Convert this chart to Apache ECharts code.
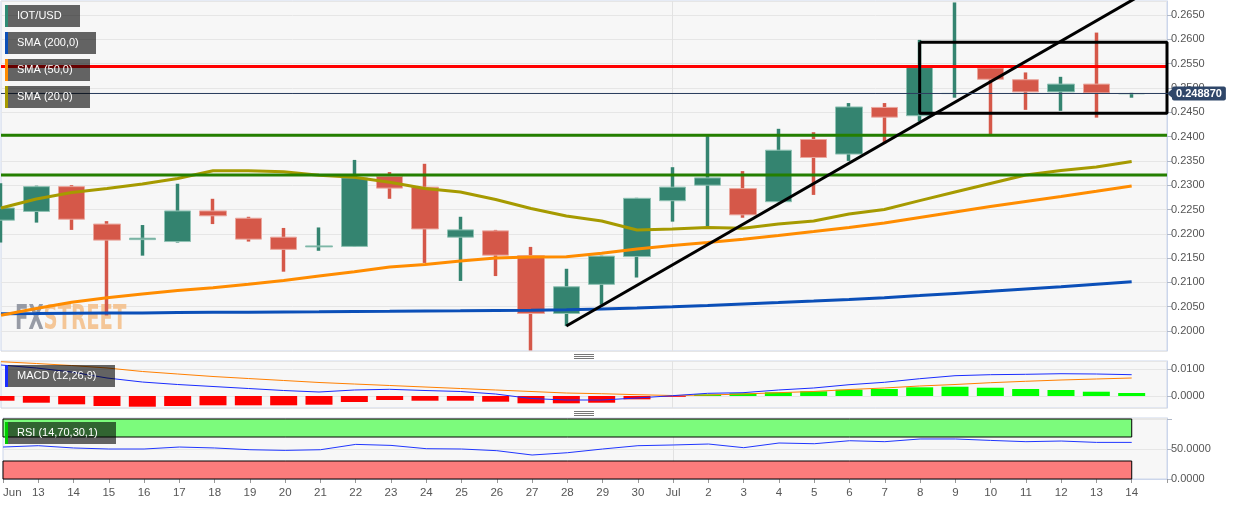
<!DOCTYPE html>
<html><head><meta charset="utf-8">
<script src="https://cdn.jsdelivr.net/npm/echarts@6/dist/echarts.min.js"></script>
<style>html,body{margin:0;padding:0;background:#fff}#c{width:1244px;height:506px}</style>
</head><body><div id="c"></div><script>
const categories = ['Jun','13','14','15','16','17','18','19','20','21','22','23','24','25','26','27','28','29','30',
  'Jul','2','3','4','5','6','7','8','9','10','11','12','13','14',''];
const opens  = [0.2228,0.2246,0.2297,0.2220,0.2188,0.2184,0.2247,0.2232,0.2193,0.2173,0.2174,0.2318,0.2296,0.2193,0.2206,0.2155,0.2036,0.2096,0.2153,0.2268,0.2300,0.2293,0.2266,0.2394,0.2364,0.2460,0.2443,0.24885,0.2541,0.2517,0.2492,0.2508,0.24880];
const closes = [0.2253,0.2297,0.2230,0.2187,0.2191,0.2247,0.2237,0.2189,0.2168,0.2175,0.2315,0.2294,0.2210,0.2208,0.2156,0.2036,0.2091,0.2154,0.2273,0.2296,0.2315,0.2239,0.2372,0.2357,0.2461,0.2440,0.2542,0.24889,0.2518,0.2492,0.2508,0.2490,0.24887];
const lows   = [0.2182,0.2223,0.2208,0.2032,0.2155,0.2182,0.2220,0.2184,0.2122,0.2165,0.2173,0.2272,0.2140,0.2103,0.2113,0.1960,0.2010,0.2054,0.2110,0.2225,0.2215,0.2233,0.2265,0.2280,0.2350,0.2386,0.2431,0.2480,0.2405,0.2455,0.2453,0.2439,0.2480];
const highs  = [0.2304,0.2299,0.2300,0.2226,0.2218,0.2303,0.2272,0.2235,0.2212,0.2213,0.2352,0.2327,0.2344,0.2235,0.2208,0.2173,0.2128,0.2155,0.2274,0.2337,0.2401,0.2329,0.2416,0.2409,0.2469,0.2469,0.2599,0.2676,0.2541,0.2532,0.2523,0.2614,0.2490];
const sma200 = [0.20354,0.20358,0.20364,0.20368,0.20372,0.20379,0.20383,0.20387,0.20391,0.20395,0.20401,0.20405,0.20412,0.20416,0.20422,0.20428,0.20436,0.20453,0.20473,0.20498,0.20525,0.20556,0.20586,0.20617,0.2065,0.20685,0.20728,0.20772,0.20817,0.20864,0.20912,0.20963,0.21014];
const sma50  = [0.20323,0.20463,0.2059,0.20683,0.20761,0.20831,0.20889,0.20961,0.21039,0.21132,0.2122,0.21317,0.21368,0.2144,0.21502,0.21523,0.21529,0.21599,0.21687,0.21759,0.21821,0.21887,0.21965,0.22045,0.2213,0.22222,0.22335,0.22449,0.22562,0.22665,0.22767,0.22874,0.22984];
const sma20  = [0.22531,0.22716,0.2285,0.22932,0.23025,0.23138,0.23298,0.23298,0.23278,0.23204,0.23165,0.2306,0.22932,0.2286,0.22706,0.22521,0.22366,0.22263,0.22078,0.22099,0.2213,0.22113,0.22202,0.22263,0.22407,0.225,0.22683,0.2286,0.23035,0.2321,0.23302,0.23374,0.23488];
const macdLine   = [0.01161,0.01049,0.00899,0.00674,0.00524,0.00431,0.00356,0.00281,0.00206,0.0015,0.00225,0.00251,0.00206,0.00169,0.00075,-0.00094,-0.0015,-0.0015,-0.00075,0.00011,0.00101,0.00124,0.00225,0.003,0.00423,0.00513,0.00648,0.0076,0.00798,0.00813,0.00835,0.00824,0.00798];
const signalLine = [0.01285,0.01217,0.01142,0.01049,0.00918,0.00824,0.0073,0.00655,0.00581,0.00506,0.00449,0.00393,0.00337,0.00281,0.00225,0.00169,0.00112,0.00086,0.00049,0.00019,0.00037,0.00075,0.00124,0.00169,0.00243,0.003,0.00375,0.00431,0.00498,0.00551,0.00599,0.00637,0.00674];
const macdHist   = [-0.00176,-0.00251,-0.00311,-0.00375,-0.004,-0.00375,-0.00348,-0.00348,-0.00348,-0.00326,-0.00225,-0.0015,-0.00176,-0.00176,-0.00213,-0.00273,-0.00273,-0.00251,-0.00124,-0.0003,0.0006,0.001,0.00139,0.00176,0.00236,0.00262,0.00326,0.00348,0.00311,0.00262,0.00225,0.00161,0.00112];
const rsiValues  = [53.3,55.5,51.7,50,50,53.3,51.7,48.8,47.7,48.8,57.7,56,50.5,50,47.2,40,43.8,50,55.5,56.7,58.3,52.2,60,58.8,63.8,62.2,66.7,66.7,64.3,62.2,63.3,61,61];
const lastPrice = 0.248870;
const redLevel = 0.2544;
const greenLevels = [0.2403, 0.2321];
const trendLine = [[16, 0.20103], [33, 0.2722]];
const boxX = [26, 33];
const boxY = [0.24479, 0.2594];
const rsiBands = [[70, 100], [0, 30]];

const FONT = "'Liberation Sans', Arial, sans-serif";
const UP = '#348470', DOWN = '#d55849';
const UP_EDGE = '#8fc2b4', DOWN_EDGE = '#eaa69d';
const chart = echarts.init(document.getElementById('c'), null, {renderer: 'canvas'});

function xAx(gi) {
  return {
    type: 'category', gridIndex: gi, data: categories, boundaryGap: false,
    axisLine: {show: gi === 2, lineStyle: {color: '#ccd6eb'}},
    axisTick: {show: gi === 2, interval: 0, length: 4, lineStyle: {color: '#999'}},
    axisLabel: {show: gi === 2, interval: 0, color: '#555', fontSize: 11.5, fontFamily: FONT, margin: 8, alignMinLabel: 'left'},
    splitLine: {show: true, interval: (i) => i === 19, lineStyle: {color: '#e2e2e2'}}
  };
}
const yCommon = {
  type: 'value', position: 'right',
  axisLine: {show: true, lineStyle: {color: '#ccd6eb'}},
  axisTick: {show: true, length: 5, lineStyle: {color: '#b0b8c8'}},
  splitLine: {show: true, lineStyle: {color: '#e6e6e6'}}
};
const lbl = {color: '#555', fontSize: 11, fontFamily: FONT, margin: 4, showMinLabel: false, showMaxLabel: false};

const wickData = opens.map((o, i) => [o, closes[i], lows[i], highs[i]]);
const bodyData = opens.map((o, i) => [o, closes[i], Math.min(o, closes[i]), Math.max(o, closes[i])]);
const hLine = (v) => [[0, v], [33, v]];

const option = {
  animation: false,
  backgroundColor: '#ffffff',
  grid: [
    {left: 1, top: 1, width: 1166, height: 350, show: true, backgroundColor: '#f7f7f7', borderColor: '#ccd6eb', borderWidth: 1},
    {left: 1, top: 361, width: 1166, height: 47, show: true, backgroundColor: '#f7f7f7', borderColor: '#ccd6eb', borderWidth: 1},
    {left: 1, top: 418, width: 1166, height: 61, show: true, backgroundColor: '#f7f7f7', borderColor: '#ccd6eb', borderWidth: 1}
  ],
  xAxis: [xAx(0), xAx(1), xAx(2)],
  yAxis: [
    Object.assign({}, yCommon, {gridIndex: 0, min: 0.19588, max: 0.2679, splitNumber: 14,
      axisLabel: Object.assign({}, lbl, {formatter: (v) => v.toFixed(4)})}),
    Object.assign({}, yCommon, {gridIndex: 1, min: -0.00449, max: 0.01311, splitNumber: 2,
      axisLabel: Object.assign({}, lbl, {formatter: (v) => v.toFixed(4)})}),
    Object.assign({}, yCommon, {gridIndex: 2, min: 0, max: 101.67, interval: 50,
      axisLabel: Object.assign({}, lbl, {showMinLabel: true, formatter: (v) => (v === 0 || v === 50) ? v.toFixed(4) : ''})})
  ],
  series: [
    {type: 'candlestick', xAxisIndex: 0, yAxisIndex: 0, data: wickData, barWidth: 0.5,
      itemStyle: {color: UP, color0: DOWN, borderColor: UP, borderColor0: DOWN, borderWidth: 3.5}},
    {type: 'candlestick', xAxisIndex: 0, yAxisIndex: 0, data: bodyData, barWidth: 27,
      itemStyle: {color: UP, color0: DOWN, borderColor: UP_EDGE, borderColor0: DOWN_EDGE, borderWidth: 1}},
    {type: 'line', xAxisIndex: 0, yAxisIndex: 0, data: sma200, symbol: 'none', lineStyle: {color: '#0b4fb8', width: 3}},
    {type: 'line', xAxisIndex: 0, yAxisIndex: 0, data: sma50, symbol: 'none', lineStyle: {color: '#ff8c00', width: 3}},
    {type: 'line', xAxisIndex: 0, yAxisIndex: 0, data: sma20, symbol: 'none', lineStyle: {color: '#a69a00', width: 3}},
    {type: 'line', xAxisIndex: 0, yAxisIndex: 0, data: hLine(redLevel), symbol: 'none', lineStyle: {color: '#ff0000', width: 3}},
    {type: 'line', xAxisIndex: 0, yAxisIndex: 0, data: hLine(greenLevels[0]), symbol: 'none', lineStyle: {color: '#247f00', width: 3}},
    {type: 'line', xAxisIndex: 0, yAxisIndex: 0, data: hLine(greenLevels[1]), symbol: 'none', lineStyle: {color: '#247f00', width: 3}},
    {type: 'line', xAxisIndex: 0, yAxisIndex: 0, data: trendLine, symbol: 'none', lineStyle: {color: '#000', width: 3}},
    {type: 'line', xAxisIndex: 0, yAxisIndex: 0, clip: false, symbol: 'none', lineStyle: {color: '#000', width: 3},
      data: [[boxX[0], boxY[1]], [boxX[1], boxY[1]], [boxX[1], boxY[0]], [boxX[0], boxY[0]], [boxX[0], boxY[1]]]},
    {type: 'line', xAxisIndex: 0, yAxisIndex: 0, data: hLine(lastPrice), symbol: 'none', lineStyle: {color: '#2c3f5f', width: 1},
      markLine: {silent: true, symbol: 'none', precision: 6, lineStyle: {color: '#2c3f5f', width: 1, type: 'solid'},
        label: {show: true, position: 'end', distance: 5, formatter: lastPrice.toFixed(6), color: '#fff', fontWeight: 'bold',
          fontSize: 11, fontFamily: FONT, backgroundColor: '#2f4669', padding: [2, 4, 1, 4], borderRadius: 2},
        data: [{yAxis: lastPrice}]}},
    {type: 'bar', xAxisIndex: 1, yAxisIndex: 1, barWidth: 27,
      data: macdHist.map((v) => ({value: v, itemStyle: {color: v < 0 ? '#ff0000' : '#00ff00'}}))},
    {type: 'line', xAxisIndex: 1, yAxisIndex: 1, data: signalLine, symbol: 'none', lineStyle: {color: '#ff7f00', width: 1}},
    {type: 'line', xAxisIndex: 1, yAxisIndex: 1, data: macdLine, symbol: 'none', lineStyle: {color: '#1a2cff', width: 1}},
    {type: 'line', xAxisIndex: 2, yAxisIndex: 2, data: rsiValues, symbol: 'none', lineStyle: {color: '#2036ff', width: 1},
      markArea: {silent: true, data: [
        [{xAxis: 0, yAxis: rsiBands[0][0], itemStyle: {color: '#7cfb7c', borderColor: '#000', borderWidth: 1, opacity: 1}}, {xAxis: 32, yAxis: rsiBands[0][1]}],
        [{xAxis: 0, yAxis: rsiBands[1][0], itemStyle: {color: '#fb7c7c', borderColor: '#000', borderWidth: 1, opacity: 1}}, {xAxis: 32, yAxis: rsiBands[1][1]}]
      ]}}
  ],
  graphic: [
    {type: 'text', x: 15, y: 304, z: 1, scaleX: 0.595, silent: true,
      style: {text: '{a|FX}{b|STREET}', font: "bold 33px 'DejaVu Sans'", verticalAlign: 'top', opacity: 0.85,
        rich: {a: {fill: '#868b96', font: "bold 33px 'DejaVu Sans'"}, b: {fill: '#f3bd86', font: "bold 33px 'DejaVu Sans'"}}}},
    {type: 'polygon', z: 50, shape: {points: [[1167, 93.5], [1173, 88.5], [1173, 98.5]]}, style: {fill: '#2f4669'}},
    ...[
      ['IOT/USD', 5, 75, '#2e8b74'],
      ['SMA (200,0)', 32, 91, '#0b4fb8'],
      ['SMA (50,0)', 59, 85, '#ff8c00'],
      ['SMA (20,0)', 86, 85, '#a69a00'],
      ['MACD (12,26,9)', 365, 110, '#1a2cff'],
      ['RSI (14,70,30,1)', 422, 111, '#00cc00']
    ].flatMap(([t, y, w, c]) => [
      {type: 'rect', z: 100, shape: {x: 8, y: y, width: w - 3, height: 22}, style: {fill: 'rgba(0,0,0,0.6)'}},
      {type: 'rect', z: 100, shape: {x: 5, y: y, width: 3, height: 22}, style: {fill: c}},
      {type: 'text', z: 101, x: 17, y: y + 11, style: {text: t, fill: '#fff', fontSize: 11, fontFamily: FONT, verticalAlign: 'middle'}}
    ]),
    ...[354, 356, 358, 411, 413, 415].map((y) => ({type: 'line', z: 100, shape: {x1: 574, y1: y + 0.5, x2: 594, y2: y + 0.5}, style: {stroke: '#777', lineWidth: 1}}))
  ]
};
chart.setOption(option);
</script></body></html>
